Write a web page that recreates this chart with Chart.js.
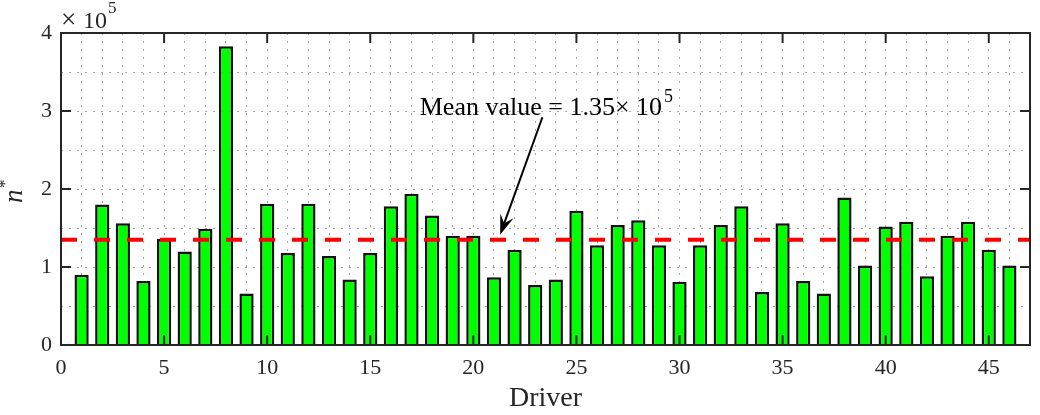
<!DOCTYPE html>
<html>
<head>
<meta charset="utf-8">
<script src="https://cdn.jsdelivr.net/npm/chart.js"></script>
<style>
  html, body { margin: 0; padding: 0; background: #fff; }
  #wrap { width: 1040px; height: 415px; }
</style>
</head>
<body>
<div id="wrap"><canvas id="chart"></canvas></div>
<script>
const drivers = [1, 2, 3, 4, 5, 6, 7, 8, 9, 10, 11, 12, 13, 14, 15, 16, 17, 18, 19, 20, 21, 22, 23,
  24, 25, 26, 27, 28, 29, 30, 31, 32, 33, 34, 35, 36, 37, 38, 39, 40, 41, 42, 43, 44, 45, 46];
const nStar = [90000, 180000, 156000, 82000, 136000, 120000, 149000, 383000, 66000, 181000, 118000, 181000,
  114000, 84000, 118000, 178000, 194000, 166000, 140000, 140000, 87000, 122000, 77000, 84000,
  172000, 128000, 154000, 160000, 128000, 81000, 128000, 154000, 178000, 68000, 156000, 82000,
  66000, 189000, 102000, 152000, 158000, 88000, 140000, 158000, 122000, 102000];
const meanValue = 135000;
const meanSpan = [0, 47];
const xTicks = [0, 5, 10, 15, 20, 25, 30, 35, 40, 45];
const yTicks = [0, 100000, 200000, 300000, 400000];
const yScaleFactor = 100000;
const annotationText = 'Mean value = 1.35\u00d7 10';
const annotationExp = '5';
const arrowFrom = { x: 23.35, y: 292000 };
const arrowTo = { x: 21.3, y: 141500 };
const textAt = { x: 17.4, y: 295000 };

const AXIS = '#262626';
const SERIF = '"Liberation Serif", "DejaVu Serif", serif';

// box, inward tick marks, exponent, y label and the annotation
const decorations = {
  id: 'decorations',
  afterDraw(chart) {
    const { ctx, chartArea: a, scales } = chart;
    const sx = scales.x, sy = scales.y;
    ctx.save();
    ctx.strokeStyle = AXIS;
    ctx.lineWidth = 2;
    ctx.strokeRect(a.left, a.top, a.right - a.left, a.bottom - a.top);
    const tl = 10;
    ctx.beginPath();
    xTicks.forEach((v) => {
      const px = sx.getPixelForValue(v);
      ctx.moveTo(px, a.bottom); ctx.lineTo(px, a.bottom - tl);
      ctx.moveTo(px, a.top); ctx.lineTo(px, a.top + tl);
    });
    yTicks.forEach((v) => {
      const py = sy.getPixelForValue(v);
      ctx.moveTo(a.left, py); ctx.lineTo(a.left + tl, py);
      ctx.moveTo(a.right, py); ctx.lineTo(a.right - tl, py);
    });
    ctx.stroke();

    // x10^5 exponent label
    ctx.fillStyle = AXIS;
    ctx.textBaseline = 'alphabetic';
    ctx.textAlign = 'left';
    ctx.font = '27px ' + SERIF;
    ctx.fillText('\u00d7', a.left + 0, a.top - 5);
    ctx.font = '24px ' + SERIF;
    ctx.fillText('10', a.left + 22, a.top - 5);
    ctx.font = '17px ' + SERIF;
    ctx.fillText('5', a.left + 47, a.top - 20);

    // y axis label n*
    ctx.save();
    ctx.translate(22, 203);
    ctx.rotate(-Math.PI / 2);
    ctx.textAlign = 'left';
    ctx.font = 'italic 27px ' + SERIF;
    ctx.fillText('n', 0, 0);
    ctx.font = '17px ' + SERIF;
    ctx.fillText('*', 15, -12);
    ctx.restore();

    // annotation text
    ctx.fillStyle = '#000';
    ctx.font = '26px ' + SERIF;
    const tx = sx.getPixelForValue(textAt.x), ty = sy.getPixelForValue(textAt.y);
    ctx.fillText(annotationText, tx, ty);
    const tw = ctx.measureText(annotationText).width;
    ctx.font = '18px ' + SERIF;
    ctx.fillText(annotationExp, tx + tw + 2, ty - 13);

    // arrow
    const x0 = sx.getPixelForValue(arrowFrom.x), y0 = sy.getPixelForValue(arrowFrom.y);
    const x1 = sx.getPixelForValue(arrowTo.x), y1 = sy.getPixelForValue(arrowTo.y);
    const ang = Math.atan2(y1 - y0, x1 - x0);
    const hl = 20, hw = 7, back = 12;
    ctx.strokeStyle = '#000';
    ctx.lineWidth = 2;
    ctx.beginPath();
    ctx.moveTo(x0, y0);
    ctx.lineTo(x1 - Math.cos(ang) * back, y1 - Math.sin(ang) * back);
    ctx.stroke();
    const cos = Math.cos(ang), sin = Math.sin(ang);
    const bx = x1 - cos * hl, by = y1 - sin * hl;
    ctx.fillStyle = '#000';
    ctx.beginPath();
    ctx.moveTo(x1, y1);
    ctx.lineTo(bx - sin * hw, by + cos * hw);
    ctx.lineTo(x1 - cos * back, y1 - sin * back);
    ctx.lineTo(bx + sin * hw, by - cos * hw);
    ctx.closePath();
    ctx.fill();
    ctx.restore();
  }
};

const barPoints = drivers.map((d, i) => ({ x: d, y: nStar[i] }));
const meanPoints = meanSpan.map((x) => ({ x, y: meanValue }));

new Chart(document.getElementById('chart'), {
  type: 'bar',
  data: {
    datasets: [
      {
        type: 'line',
        data: meanPoints,
        borderColor: '#ff0000',
        borderWidth: 4,
        borderDash: [16, 17],
        pointRadius: 0,
        order: 0,
      },
      {
        type: 'bar',
        data: barPoints,
        backgroundColor: '#00ff00',
        borderColor: '#111111',
        borderWidth: 2.5,
        barPercentage: 0.69,
        categoryPercentage: 1,
        order: 1,
      },
    ],
  },
  options: {
    responsive: true,
    maintainAspectRatio: false,
    animation: false,
    layout: { padding: { left: 0, right: 10, top: 33, bottom: 0 } },
    plugins: { legend: { display: false }, tooltip: { enabled: false } },
    scales: {
      x: {
        type: 'linear',
        offset: false,
        min: 0,
        max: 47,
        afterFit: (s) => { s.height = 70; },
        grid: { color: '#a8a8a8', lineWidth: 1, drawTicks: false, offset: false },
        border: { display: false, dash: [2, 6] },
        ticks: {
          stepSize: 1,
          autoSkip: false,
          maxRotation: 0,
          padding: 10,
          color: AXIS,
          font: { family: SERIF, size: 22 },
          callback: (v) => (xTicks.includes(v) ? String(v) : ''),
        },
        title: {
          display: true,
          text: 'Driver',
          color: AXIS,
          font: { family: SERIF, size: 28 },
          padding: { top: 0, bottom: 0 },
        },
      },
      y: {
        min: 0,
        max: 400000,
        afterFit: (s) => { s.width = 61; },
        grid: { color: '#a8a8a8', lineWidth: 1, drawTicks: false },
        border: { display: false, dash: [2, 6] },
        ticks: {
          stepSize: 50000,
          autoSkip: false,
          padding: 9,
          color: AXIS,
          font: { family: SERIF, size: 22 },
          callback: (v) => (yTicks.includes(v) ? String(v / yScaleFactor) : ''),
        },
      },
    },
  },
  plugins: [decorations],
});
</script>
</body>
</html>
